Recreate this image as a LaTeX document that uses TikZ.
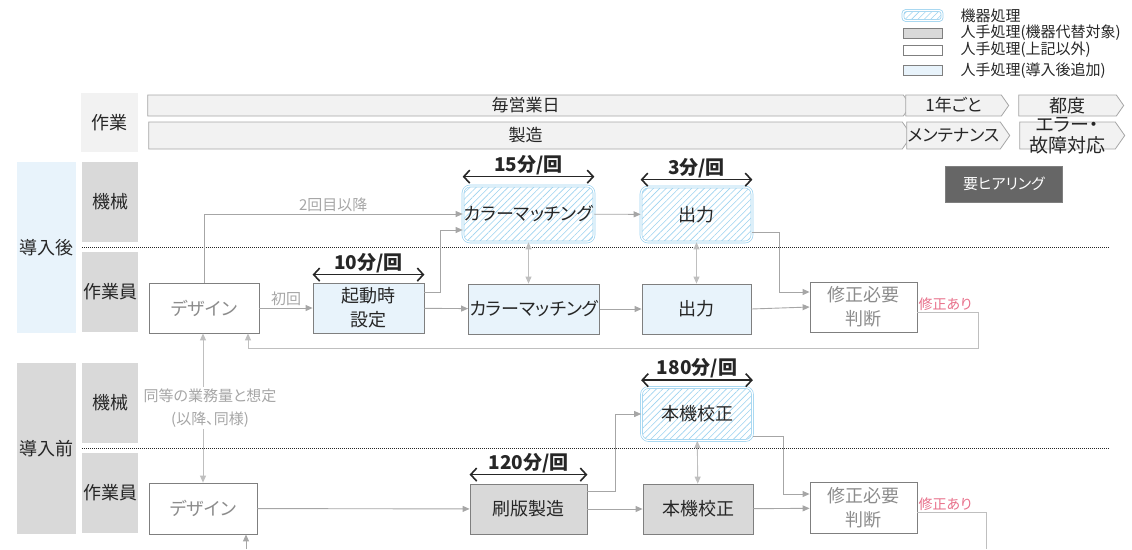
\documentclass[tikz,border=0pt]{standalone}
\usepackage{fontspec}
\setmainfont{Noto Sans CJK JP}[RawFeature=+palt]
\usetikzlibrary{arrows.meta,positioning,calc,shapes.symbols,patterns.meta}
\definecolor{tinta}{RGB}{38,38,38}
\definecolor{borde}{RGB}{127,127,127}
\definecolor{grist}{RGB}{140,140,140}
\definecolor{grisc}{RGB}{217,217,217}
\definecolor{grisbar}{RGB}{242,242,242}
\definecolor{grisb}{RGB}{166,166,166}
\definecolor{celestef}{RGB}{232,243,251}
\definecolor{celeste}{RGB}{157,211,240}
\definecolor{flecha}{RGB}{166,166,166}
\definecolor{flechac}{RGB}{191,191,191}
\definecolor{rosa}{RGB}{232,112,138}
\definecolor{oscuro}{RGB}{102,102,102}
\tikzset{
  proc/.style={draw=borde, line width=0.8pt, minimum width=110, minimum height=50, align=center, inner sep=1pt, font=\fontsize{18}{24}\selectfont, text=tinta},
  blanco/.style={proc, fill=white, text=grist},
  nuevo/.style={proc, fill=celestef},
  reemp/.style={proc, fill=grisc},
  maq/.style={proc, rounded corners=7pt, draw=celeste, double=white, double distance=1.2pt, line width=0.7pt, preaction={fill=white}, pattern={Lines[angle=45,distance=4.5pt,line width=0.6pt]}, pattern color=celeste},
  sw/.style={minimum width=39, minimum height=10, inner sep=0pt, line width=0.8pt},
  leytxt/.style={font=\fontsize{15}{17}\selectfont, text=tinta, inner sep=0pt, anchor=west},
  hdr/.style={fill=grisc, minimum width=56, minimum height=80, inner sep=0pt, font=\fontsize{18}{20}\selectfont, text=tinta},
  fase/.style={minimum width=59, minimum height=171, inner sep=0pt, font=\fontsize{18}{20}\selectfont, text=tinta},
  barra/.style={signal, signal to=east, signal pointer angle=110, draw=grisb, fill=grisbar, line width=0.8pt, inner sep=0pt, font=\fontsize{17}{19}\selectfont, text=tinta},
  flujo/.style={draw=flecha, line width=0.9pt, -{Triangle[length=7pt,width=6pt]}},
  doble/.style={flujo, draw=flechac, {Triangle[length=7pt,width=6pt]}-{Triangle[length=7pt,width=6pt]}},
  retorno/.style={draw=flechac, line width=0.9pt},
  etiq/.style={font=\fontsize{15}{23}\selectfont, text=grisb, inner sep=1pt},
  fix/.style={font=\fontsize{14}{16}\selectfont, text=rosa, inner sep=1pt},
  tramo/.style={line width=1.6pt, draw=tinta, {Straight Barb[length=6pt,width=13pt]}-{Straight Barb[length=6pt,width=13pt]}},
  tiempo/.style={font=\bfseries\fontsize{19}{20}\selectfont, text=tinta, inner sep=0pt},
  sep/.style={draw=tinta, line width=1pt, densely dotted},
}
\begin{document}
\begin{tikzpicture}[x=1pt,y=-1pt]
  \useasboundingbox (0,0) rectangle (1132,549);
  % leyenda
  \node[maq, sw, rounded corners=3pt] (ley1) at (922.5,15.5) {};
  \node[reemp, sw] (ley2) at (922.5,33) {};
  \node[blanco, sw] (ley3) at (922.5,50) {};
  \node[nuevo, sw] (ley4) at (922.5,70.5) {};
  \node[leytxt, right=18pt of ley1] {機器処理};
  \node[leytxt, right=18pt of ley2] {人手処理(機器代替対象)};
  \node[leytxt, right=18pt of ley3] {人手処理(上記以外)};
  \node[leytxt, right=18pt of ley4] {人手処理(導入後追加)};
  % calendario
  \node[hdr, fill=grisbar, minimum width=57, minimum height=59] (trab) at (109.5,122.5) {作業};
  \node[barra, minimum width=763, minimum height=21] (diario) at (525.5,105.5) {毎営業日};
  \node[barra, minimum width=763, minimum height=27] (fabr) at (525.5,135.5) {製造};
  \node[barra, minimum width=103, minimum height=21] (anual) at (953.5,105.5) {1年ごと};
  \node[barra, minimum width=103, minimum height=27] (mant) at (953.5,135.5) {メンテナンス};
  \node[barra, minimum width=105, minimum height=21, font=\fontsize{18}{20}\selectfont] (cada) at (1067.5,105.5) {都度};
  \node[barra, minimum width=105, minimum height=27] (falla) at (1067.5,135.5) {};
  \node[font=\fontsize{19}{21}\selectfont, text=tinta, align=center, inner sep=0pt] (fallatxt) at (falla) {エラー・\\故障対応};
  \node[draw=borde, fill=oscuro, text=white, minimum width=117, minimum height=36, font=\fontsize{15}{17}\selectfont] (oir) at (1004,184) {要ヒアリング};
  % cabeceras
  \node[fase, fill=celestef] (post) at (46.5,247.5) {導入後};
  \node[hdr] (maq1) at (110,202) {機械};
  \node[hdr] (ope1) at (110,292) {作業員};
  \node[fase, fill=grisc] (pre) at (46.5,448.5) {導入前};
  \node[hdr] (maq2) at (110,403) {機械};
  \node[hdr] (ope2) at (110,493) {作業員};
  \draw[sep] ($(maq1.south west)!0.5!(ope1.north west)$) -- ++(1028,0);
  \draw[sep] ($(maq2.south west)!0.5!(ope2.north west)$) -- ++(1028,0);
  % despues
  \node[blanco] (dis1) at (204,308) {デザイン};
  \node[nuevo, minimum width=111] (arr) at (368.5,308) {起動時\\設定};
  \node[maq, minimum width=119, minimum height=56] (cm1) at (528.5,214) {カラーマッチング};
  \node[nuevo] (cm2) at (534,309) {カラーマッチング};
  \node[maq, minimum width=111, minimum height=55] (sal1) at (696.5,214.5) {出力};
  \node[nuevo, minimum width=109] (sal2) at (696.5,309) {出力};
  \node[blanco, minimum width=107] (rev1) at (863.5,307) {修正必要\\判断};
  \draw[tramo] ([yshift=9]cm1.north west) -- ([yshift=9]cm1.north east) node[tiempo, midway, above=1pt] {15分/回};
  \draw[tramo] ([yshift=8]arr.north west) -- ([yshift=8]arr.north east) node[tiempo, midway, above=1pt] {10分/回};
  \draw[tramo] ([yshift=7]sal1.north west) -- ([yshift=7]sal1.north east) node[tiempo, midway, above=1pt] {3分/回};
  \draw[flujo] (dis1.north) |- (cm1.west) node[etiq, pos=0.75, above=1pt] {2回目以降};
  \draw[flujo] (dis1) -- (arr) node[etiq, midway, above=1pt] {初回};
  \draw[flujo] ([yshift=16]arr.east) -- ++(16,0) |- ([yshift=-16]cm1.west);
  \draw[flujo] (arr) -- (cm2);
  \draw[doble] (cm1.south) -- (cm1.south |- cm2.north);
  \draw[flujo] (cm1) -- (sal1);
  \draw[flujo] (cm2) -- (sal2);
  \draw[doble] (sal1) -- (sal2);
  \draw[flujo] ([yshift=-18]sal1.east) -- ++(27,0) |- ([yshift=15]rev1.west);
  \draw[flujo] (sal2.east) -- (rev1.west);
  \coordinate (vuelta1) at (978,348);
  \draw[flujo, draw=flechac] ([yshift=-5]rev1.east) -| (vuelta1) -| ([xshift=44]dis1.south);
  \node[fix, anchor=south west] (fix1) at ([yshift=-5]rev1.east) {修正あり};
  % antes
  \node[blanco, minimum width=108, minimum height=51] (dis2) at (203,508.5) {デザイン};
  \node[reemp, minimum width=117] (pla) at (528.5,509) {刷版製造};
  \node[maq, minimum width=111, minimum height=53] (cal1) at (697,414) {本機校正};
  \node[reemp] (cal2) at (698,509) {本機校正};
  \node[blanco, minimum width=107, minimum height=51] (rev2) at (863.5,508) {修正必要\\判断};
  \draw[tramo] ([yshift=9]pla.north west) -- ([yshift=9]pla.north east) node[tiempo, midway, above=1pt] {120分/回};
  \draw[tramo] ([yshift=7]cal1.north west) -- ([yshift=7]cal1.north east) node[tiempo, midway, above=1pt] {180分/回};
  \draw[doble] (dis2.north |- dis1.south) -- (dis2.north) node[etiq, midway, fill=white, align=center, xshift=7, inner sep=2pt] {同等の業務量と想定\\(以降、同様)};
  \draw[flujo] (dis2) -- (pla);
  \coordinate (entra2) at (246,549);
  \draw[flujo] (entra2) -- (entra2 |- dis2.south);
  \draw[flujo] ([yshift=18]pla.east) -- ++(28,0) |- (cal1.west);
  \draw[flujo] (pla) -- (cal2);
  \draw[doble] (cal1) -- (cal2);
  \draw[flujo] ([yshift=-22]cal1.east) -- ++(31,0) |- ([yshift=14]rev2.west);
  \draw[flujo] (cal2) -- (rev2);
  \coordinate (vuelta2) at (986,549);
  \draw[retorno] ([yshift=-4]rev2.east) -| (vuelta2);
  \node[fix, anchor=south west] (fix2) at ([yshift=-4]rev2.east) {修正あり};
\end{tikzpicture}
\end{document}
